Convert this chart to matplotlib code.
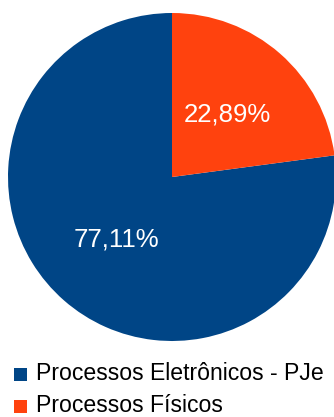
import matplotlib.pyplot as plt
from matplotlib.patches import Rectangle

labels = ["Processos Eletrônicos - PJe", "Processos Físicos"]
values = [77.11, 22.89]
colors = ["#004586", "#ff420e"]

W, H = 334, 417
fig = plt.figure(figsize=(W / 100, H / 100), dpi=100)
plt.rcParams['font.family'] = ['Liberation Sans', 'DejaVu Sans']

# pie centre (172, 177) px, radius 164 px
cx, cy, r = 172, 177, 164
ax = fig.add_axes([(cx - r) / W, (H - cy - r) / H, 2 * r / W, 2 * r / H])
ax.pie(values, colors=colors, startangle=90, counterclock=True,
       autopct=lambda p: ("%.2f%%" % p).replace(".", ","),
       pctdistance=0.51, radius=1,
       textprops=dict(color="white", fontsize=18.5))
ax.set_xlim(-1, 1)
ax.set_ylim(-1, 1)
ax.set_aspect("equal")
ax.axis("off")

# legend
for i, (lab, col) in enumerate(zip(labels, colors)):
    y = 374 + 32 * i
    fig.patches.append(Rectangle((14 / W, (H - y - 7) / H), 13 / W, 13 / H,
                                 facecolor=col, transform=fig.transFigure))
    fig.text(36 / W, (H - y) / H, lab, fontsize=16.6, va="center", ha="left",
             color="black")

fig.savefig("out.png", dpi=100)
